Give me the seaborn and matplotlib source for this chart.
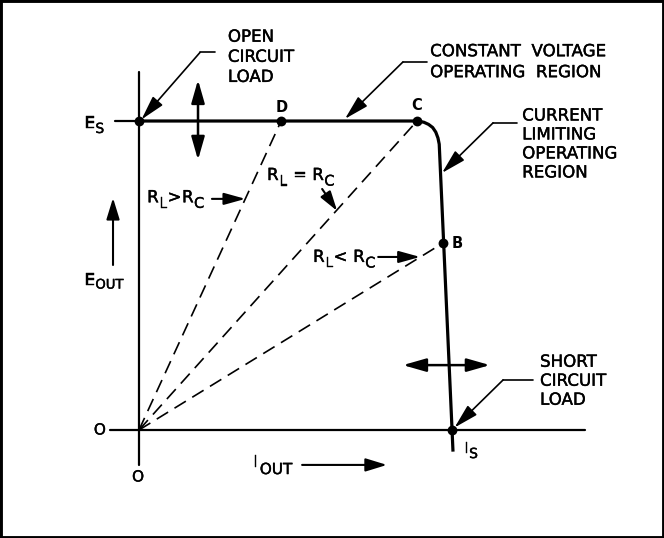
"""
Power supply output characteristic: constant voltage / current limiting
"""

import matplotlib
matplotlib.use('Agg')
import matplotlib.pyplot as plt
from matplotlib.transforms import offset_copy
import matplotlib.patheffects as pe
import pandas as pd
import seaborn as sns

# ─── Data (E_S = 10 V, I_S = 10 A) ────────────────────────────────────────────
# output characteristic: CV line, rounded knee at C, current limit line to I_S
curve_i = [0.0, 8.88, 9.10, 9.25, 9.38, 9.48, 9.55, 9.59, 10.0, 10.03]
curve_e = [10.0, 10.0, 9.96, 9.89, 9.79, 9.64, 9.45, 9.25, 0.0, -0.70]

# operating points (open circuit, D, C, B, short circuit)
point_names = ['', 'D', 'C', 'B', '']
point_i = [0.0, 4.54, 8.88, 9.71, 10.0]
point_e = [10.0, 10.0, 10.0, 6.05, 0.0]

# load lines from the origin to D, C and B
load_names = ['D', 'C', 'B']
load_i = [4.54, 8.88, 9.71]
load_e = [10.0, 10.0, 6.05]

# axes extents
x_axis = [-0.93, 14.25]
y_axis = [-1.13, 11.59]
es_tick = [-0.77, 0.0]

sns.set_theme(style='white')
plt.rcParams['font.family'] = ['DejaVu Sans']

fig = plt.figure(figsize=(6.64, 5.38), dpi=100)
ax = fig.add_axes([0, 0, 1, 1])
ax.set_xlim(-4.44, 16.77)
ax.set_ylim(-3.495, 13.916)
ax.set_xticks([])
ax.set_yticks([])
for s in ax.spines.values():
    s.set_color('black')
    s.set_linewidth(3.5)

K = 'black'
renderer = fig.canvas.get_renderer()
heavy = [pe.withStroke(linewidth=0.3, foreground=K)]

# ─── Axes ─────────────────────────────────────────────────────────────────────
ax.plot(x_axis, [0, 0], color=K, lw=1.6)
ax.plot([0, 0], y_axis, color=K, lw=1.6)
ax.plot(es_tick, [10, 10], color=K, lw=1.6)

# ─── Load lines (dashed) ──────────────────────────────────────────────────────
for i, e in zip(load_i, load_e):
    ax.plot([0, i], [0, e], color=K, lw=1.2, dashes=(8, 4.5))

# ─── Characteristic curve ─────────────────────────────────────────────────────
df = pd.DataFrame({'I': curve_i, 'E': curve_e})
sns.lineplot(data=df, x='I', y='E', sort=False, estimator=None, ax=ax,
             color=K, lw=2.3, solid_joinstyle='round', solid_capstyle='butt')

# ─── Operating points ─────────────────────────────────────────────────────────
pts = pd.DataFrame({'I': point_i, 'E': point_e, 'name': point_names})
sns.scatterplot(data=pts, x='I', y='E', ax=ax, color=K, s=50,
                edgecolor=K, linewidth=0, zorder=5)
offsets = {'D': (0.5, 10), 'C': (-0.5, 11.5), 'B': (10.5, 0)}
for _, r in pts.iterrows():
    if r['name']:
        ax.annotate(r['name'], (r['I'], r['E']), xytext=offsets[r['name']],
                    textcoords='offset points', ha='center', va='center',
                    fontsize=10.5, fontweight='bold', color=K)

ax.set_xlabel('')
ax.set_ylabel('')


def arrow(tail, tip, style='-|>', lw=1.4, hl=0.7, hw=0.2):
    ax.annotate('', xy=tip, xytext=tail,
                arrowprops=dict(arrowstyle=f'{style},head_length={hl},head_width={hw}',
                                mutation_scale=20, color=K, lw=lw,
                                shrinkA=0, shrinkB=0))


def leader(start, elbow, tip):
    ax.plot([start[0], elbow[0]], [start[1], elbow[1]], color=K, lw=1.2)
    arrow(elbow, tip, lw=1.2, hl=0.75, hw=0.2)


def chain(x, y, parts, size=12, sub=10.5, drop=4.0, gap=0.3):
    # letters with (nearly full size) lowered subscripts, laid out left to right
    dx = 0.0
    for s, is_sub in parts:
        tr = offset_copy(ax.transData, fig=fig, x=dx, y=-drop if is_sub else 0,
                         units='points')
        t = ax.text(x, y, s, transform=tr, fontsize=sub if is_sub else size,
                    ha='left', va='baseline', color=K, path_effects=heavy)
        dx += t.get_window_extent(renderer).width * 72 / fig.dpi + gap


# ─── Region labels with leaders ───────────────────────────────────────────────
txt = dict(fontsize=12, color=K, ha='left', va='top', path_effects=heavy)
ax.text(2.84, 13.02, 'OPEN\nCIRCUIT\nLOAD', linespacing=1.15, **txt)
leader((2.43, 12.22), (1.95, 12.22), (0.08, 10.05))

ax.text(9.30, 12.55, 'CONSTANT  VOLTAGE\nOPERATING  REGION', linespacing=1.21, **txt)
leader((9.20, 11.91), (8.43, 11.91), (6.58, 10.07))

ax.text(12.24, 10.47, 'CURRENT\nLIMITING\nOPERATING\nREGION', linespacing=1.07, **txt)
leader((12.08, 9.94), (11.31, 9.94), (9.68, 8.32))

ax.text(12.81, 2.50, 'SHORT\nCIRCUIT\nLOAD', linespacing=1.07, **txt)
leader((12.59, 1.62), (11.63, 1.62), (10.08, 0.08))

# ─── Load line labels ─────────────────────────────────────────────────────────
chain(0.26, 7.37, [('R', 0), ('L', 1), ('>', 0), ('R', 0), ('C', 1)])
arrow((2.33, 7.48), (3.40, 7.48), lw=1.5, hl=0.65, hw=0.18)

chain(4.09, 8.09, [('R', 0), ('L', 1), (' = ', 0), ('R', 0), ('C', 1)])
arrow((5.85, 7.80), (6.33, 7.09), lw=1.5, hl=0.6, hw=0.18)

chain(5.56, 5.44, [('R', 0), ('L', 1), ('< ', 0), ('R', 0), ('C', 1)])
arrow((7.64, 5.60), (8.98, 5.60), lw=1.5, hl=0.65, hw=0.18)

# ─── Range arrows ─────────────────────────────────────────────────────────────
arrow((1.885, 8.74), (1.885, 11.33), style='<|-|>', lw=1.8, hl=0.7, hw=0.2)
arrow((8.43, 2.10), (11.21, 2.10), style='<|-|>', lw=1.8, hl=0.7, hw=0.2)

# ─── Axis labels ──────────────────────────────────────────────────────────────
chain(-1.73, 9.77, [('E', 0), ('S', 1)], size=11.5, sub=10, drop=3.5)
chain(-1.73, 4.69, [('E', 0), ('OUT', 1)], size=11.5, sub=9.5, drop=2.5)
arrow((-0.83, 5.34), (-0.83, 7.51), lw=1.5, hl=0.65, hw=0.2)
chain(3.64, -1.20, [('I', 0), ('OUT', 1)], size=11.5, sub=11, drop=5.0, gap=1.5)
arrow((5.21, -1.13), (7.92, -1.13), lw=1.5, hl=0.65, hw=0.2)
chain(10.38, -0.75, [('I', 0), ('S', 1)], size=11.5, sub=10, drop=3.5)
ax.text(-1.25, 0.0, 'O', fontsize=11, color=K, ha='center', va='center',
        path_effects=heavy)
ax.text(-0.03, -1.52, 'O', fontsize=11, color=K, ha='center', va='center',
        path_effects=heavy)

fig.savefig('out.png', dpi=100)
